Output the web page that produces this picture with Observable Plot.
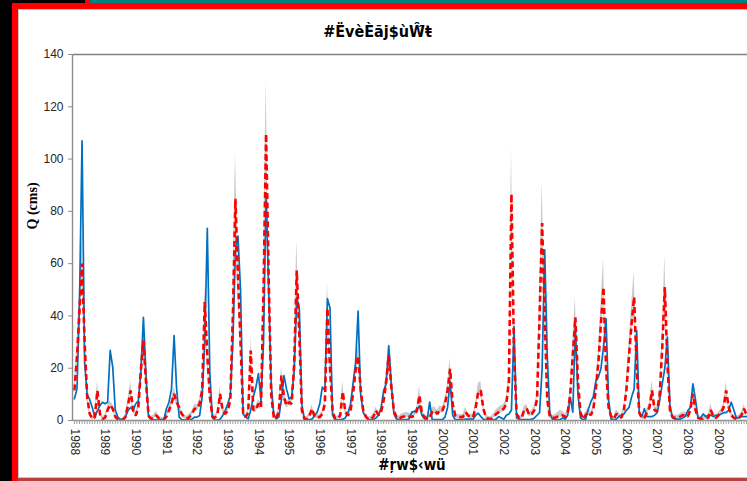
<!DOCTYPE html>
<html>
<head>
<meta charset="utf-8">
<script src="https://cdn.jsdelivr.net/npm/d3@7"></script>
<script src="https://cdn.jsdelivr.net/npm/@observablehq/plot@0.6"></script>
<style>
  html, body { margin: 0; padding: 0; background: #fff; }
  #page { position: relative; width: 747px; height: 481px; overflow: hidden; background: #fff; }
  .blk { position: absolute; }
  #title { position: absolute; left: 4px; width: 747px; top: 22px; text-align: center;
           font-family: "Liberation Sans Narrow", "DejaVu Sans Condensed", "Liberation Sans", sans-serif;
           font-stretch: condensed; font-weight: bold; font-size: 16px; line-height: 20px; color: #000; }
  #xlabel { position: absolute; left: 312px; width: 200px; top: 456px; text-align: center;
            font-family: "Liberation Sans Narrow", "DejaVu Sans Condensed", "Liberation Sans", sans-serif;
            font-stretch: condensed; font-weight: bold; font-size: 15px; line-height: 18px; color: #000; }
  #chart { position: absolute; left: 0; top: 44px; }
</style>
</head>
<body>
<div id="page">
  <div class="blk" style="left:0;top:0;width:12px;height:481px;background:#000"></div>
  <div class="blk" style="left:0;top:0;width:85px;height:3px;background:#000"></div>
  <div class="blk" style="left:85px;top:0;width:5px;height:3px;background:#ff0000"></div>
  <div class="blk" style="left:90px;top:0;width:657px;height:3px;background:#008080"></div>
  <div class="blk" style="left:12px;top:3px;width:735px;height:6px;background:#ff0000"></div>
  <div class="blk" style="left:12px;top:3px;width:6px;height:478px;background:#ff0000"></div>
  <div class="blk" style="left:18px;top:9px;width:729px;height:1px;background:#c4c4c4"></div>
  <div class="blk" style="left:18px;top:9px;width:1px;height:472px;background:#c4c4c4"></div>
  <div class="blk" style="left:18px;top:477px;width:729px;height:1px;background:#c8c8c8"></div>
  <div class="blk" style="left:18px;top:478px;width:729px;height:3px;background:#b84040"></div>
  <div id="title">#ËvèÈãj$ùŴ̂ŧ</div>
  <div id="chart"></div>
  <div id="xlabel">#ŗw$‹wü</div>
</div>
<script>
// Monthly series, Jan 1988 – Dec 2009 (one row per year)
const observed = [
  8.3, 12, 45, 107, 22, 10, 8, 5, 1.3, 3.8, 5.7, 7,
  6.4, 7, 26.8, 20.4, 4, 1.3, 0.3, 0.3, 1.5, 3.8, 5, 3.8,
  6.4, 7.5, 18, 39.5, 18, 1.5, 0.5, 0.3, 0.2, 0.2, 0.3, 0.3,
  4.5, 7, 12, 32.5, 12, 1.3, 0.3, 0.2, 0.2, 0.3, 0.5, 1.3,
  1.3, 1.9, 9, 30, 73.5, 18, 1, 0.2, 0.2, 0.5, 1.9, 3.8,
  6.4, 9.6, 30, 65, 70.5, 50, 2.5, 1.3, 0.6, 4, 9, 12.7,
  17.9, 7.7, 30, 87, 50, 14, 2.5, 0.6, 1.3, 8, 17.2, 12,
  8.3, 9, 19, 47, 43, 6, 0.6, 0.3, 0.3, 0.6, 1.9, 3.2,
  6.4, 12.8, 11.5, 46.6, 43, 2, 0.3, 0.2, 0.3, 0.5, 1, 3,
  6, 14, 22, 41.8, 10, 3, 1.5, 0.3, 0.2, 0.3, 1, 2,
  5, 11.5, 14, 28.6, 14, 2.5, 0.6, 0.3, 0.3, 0.3, 0.3, 0.6,
  3.2, 3.5, 4, 5.7, 1.9, 0.6, 0.3, 7, 0.3, 0.3, 0.3, 0.3,
  0.3, 1.3, 5, 15, 2, 0.3, 0.3, 0.3, 0.3, 0.5, 0.5, 0.5,
  0.5, 2, 2.8, 1.5, 0.5, 0.3, 0.2, 0.2, 0.3, 0.5, 1.5, 1,
  0.5, 2, 2.5, 4, 36, 1, 0.5, 0.3, 0.3, 0.3, 0.3, 0.5,
  1, 2, 3, 20, 65.3, 25, 3, 0.5, 0.3, 0.3, 0.3, 1,
  0.5, 2, 8.9, 3.2, 36, 10, 1, 0.3, 0.5, 4, 7, 9,
  15, 16.6, 19.8, 28, 38.9, 8, 0.5, 0.3, 0.5, 1.5, 2, 2.5,
  4, 5, 9, 12, 34.4, 3, 1.5, 4.5, 1.5, 1.5, 1.5, 2,
  3, 7.7, 14, 20, 31.9, 6, 1, 0.5, 0.5, 0.5, 1, 1.5,
  3.8, 5, 14, 8, 1, 1, 2.5, 1.5, 2, 2, 1.5, 2,
  2, 2.5, 3, 3, 4, 7, 4, 1, 1, 1.5, 1.5, 1.5
];
const simulated = [
  11.5, 24, 42, 60, 30, 9, 2.5, 0.6, 1.3, 11.5, 2.5, 0.6,
  1, 4, 6, 4.5, 1.5, 0.3, 0.3, 0.3, 1.3, 6, 11.5, 3.8,
  1.9, 5, 19, 30.6, 15, 1.9, 0.6, 1, 2, 0.8, 0.5, 0.3,
  1.5, 3.8, 6.4, 10.2, 7, 5, 2.5, 1.3, 0.6, 1.3, 2.5, 4.5,
  4.5, 6.4, 11.5, 45.3, 25, 9, 1.5, 1, 2.5, 10.2, 3.8, 2.5,
  3.8, 7.7, 40, 84.8, 55, 30, 3, 1.3, 3, 26.8, 4, 4,
  6.4, 5, 50, 109.7, 55, 10, 1.3, 0.6, 3.8, 17.2, 9, 5.7,
  7, 6.4, 21.7, 57.4, 33, 3.8, 0.6, 0.6, 1.9, 4.5, 1.3, 1.3,
  1.3, 2.5, 6.4, 43, 20, 3.8, 0.6, 0.6, 1.9, 11, 3.2, 1.9,
  3.5, 10, 19, 24.7, 12, 4, 1.5, 0.5, 0.5, 1.5, 3.8, 2,
  3.2, 7.7, 15, 24.9, 12.8, 3.8, 1.3, 0.6, 1.3, 1.5, 1.9, 1.5,
  1.3, 1.9, 3.8, 9.6, 2.5, 1.3, 0.6, 1.3, 3.2, 3.8, 2.5, 4,
  3.8, 6.4, 11.5, 19.8, 6.4, 1.9, 1.3, 1.3, 1.3, 3.2, 1.9, 1.3,
  1.3, 5, 10.8, 11.5, 4.5, 1.3, 0.6, 0.6, 1.3, 2.5, 3.2, 3.8,
  4.5, 6.4, 15, 86.7, 25, 2.5, 1, 1, 4, 4.5, 2, 2.5,
  4, 8, 40, 75.5, 40, 8, 1.5, 1, 1, 1.5, 2, 2,
  1.3, 3, 10, 25, 39.5, 15, 3, 0.5, 2, 3.2, 2, 4,
  12, 22, 37, 51, 20, 5, 1.5, 0.5, 2.5, 2, 1, 4,
  12, 25, 37, 47.2, 20, 3, 1, 1, 3, 5, 11.5, 4,
  3.5, 10, 28, 51, 22, 4, 1.3, 1, 1, 1.5, 2, 2,
  1.5, 4, 10.2, 4, 1, 0.6, 0.6, 1, 1, 4, 1.5, 1,
  2, 3, 5, 11.5, 5, 2, 1, 0.5, 1, 2, 4.5, 2
];
const bandHigh = [
  14, 29, 52, 71, 36, 11, 3.5, 1.5, 2.5, 15, 4, 1.5,
  2, 5.5, 7.5, 6, 2.5, 1, 1, 1, 2.5, 8, 15, 5,
  3, 6.5, 23, 35, 18, 3, 1.5, 2, 3.5, 2, 1.2, 1,
  2.5, 5, 8, 12.5, 9, 6.5, 3.5, 2.2, 1.5, 2.5, 3.5, 6,
  6, 8, 14, 52, 29, 11, 2.5, 2, 3.5, 13, 5, 3.5,
  5, 9.5, 48, 102, 64, 35, 4, 2.2, 4, 32, 5.5, 5.5,
  8, 6.5, 60, 130, 64, 12.5, 2.2, 1.5, 5, 20.5, 11, 7,
  8.5, 8, 26, 69, 39, 5, 1.5, 1.5, 3, 6, 2.2, 2.2,
  2.2, 3.5, 8, 53, 24, 5, 1.5, 1.5, 3, 15, 4.5, 3,
  4.8, 12, 22.5, 28.5, 14.5, 5.2, 2.5, 1.4, 1.4, 2.5, 5.2, 3,
  4.5, 9.5, 18, 30, 15.5, 5, 2.3, 1.6, 2.5, 2.8, 3.2, 2.8,
  2.5, 3.2, 5.2, 13, 3.8, 2.4, 1.6, 2.5, 4.8, 5.4, 3.8, 5.5,
  5.2, 8, 14, 23.6, 8, 3, 2.3, 2.3, 2.3, 5, 3, 2.3,
  2.4, 6.5, 14, 15, 6, 2.3, 1.5, 1.5, 2.5, 4, 5, 5.5,
  6.2, 8.2, 18, 104, 30, 3.6, 1.9, 1.9, 5.5, 6, 3.2, 3.8,
  5.5, 10, 48, 91, 47, 10, 2.5, 1.9, 2.2, 3, 3.8, 3.5,
  2.5, 4.2, 12.5, 30, 47, 18, 4.2, 1.4, 3.2, 5, 3.2, 5.5,
  14.5, 26, 44, 62, 24, 6.5, 2.5, 1.4, 4, 3.2, 2, 5.5,
  14.5, 29.5, 44, 57, 24, 4.2, 2, 2, 4.5, 6.5, 15.3, 5.5,
  5, 12.5, 33, 63, 26.5, 5.3, 2.3, 2, 2, 2.6, 3.2, 3.2,
  2.6, 5.3, 12, 5.3, 2, 1.5, 1.5, 2, 2, 6.4, 2.6, 2,
  3.2, 4.2, 6.5, 14.7, 6.5, 3.2, 2, 1.4, 2, 3.2, 6, 3.2
];
const bandLow = [
  10, 21, 37, 53, 26, 7.5, 1.8, 0.2, 0.7, 9.5, 1.8, 0.2,
  0.5, 3, 5, 3.5, 0.8, 0, 0, 0, 0.7, 5, 9.5, 3,
  1.2, 4, 16, 27, 13, 1.2, 0.2, 0.5, 1.2, 0.3, 0.1, 0,
  1, 3, 5.2, 8.5, 6, 4, 1.8, 0.8, 0.2, 0.7, 1.8, 3.5,
  3.5, 5.2, 9.5, 40, 22, 7.5, 1, 0.5, 1.8, 8.5, 3, 1.8,
  3, 6.5, 35, 75, 49, 27, 2.3, 0.8, 2.3, 23, 3.2, 3.2,
  5.2, 4, 44, 97, 49, 8.5, 0.8, 0.2, 3, 15, 7.5, 4.7,
  5.8, 5.2, 19, 51, 29, 3, 0.2, 0.2, 1.2, 3.5, 0.8, 0.8,
  0.8, 1.8, 5.2, 38, 17.5, 3, 0.2, 0.2, 1.2, 9, 2.4, 1.2,
  2.6, 8.5, 16.5, 22, 10.5, 3.2, 0.9, 0.1, 0.1, 0.9, 3, 1.3,
  2.4, 6.5, 13, 22, 11, 3, 0.8, 0.2, 0.7, 0.9, 1.2, 0.9,
  0.8, 1.2, 3, 8, 1.8, 0.8, 0.2, 0.8, 2.4, 2.9, 1.8, 3,
  3, 5.3, 9.8, 17, 5.3, 1.2, 0.8, 0.8, 0.8, 2.4, 1.2, 0.8,
  0.8, 4, 9, 9.8, 3.5, 0.8, 0.2, 0.2, 0.8, 1.8, 2.4, 2.9,
  3.5, 5.2, 13, 76, 22, 1.8, 0.5, 0.5, 3, 3.5, 1.3, 1.8,
  3, 6.8, 35, 66, 35, 6.6, 0.9, 0.5, 0.5, 0.9, 1.3, 1.3,
  0.8, 2.2, 8.5, 22, 35, 12.8, 2.2, 0.1, 1.3, 2.4, 1.3, 3,
  10.3, 19.5, 32.5, 45, 17.5, 4, 0.9, 0.1, 1.8, 1.3, 0.5, 3,
  10.3, 22, 32.5, 42, 17.5, 2.2, 0.5, 0.5, 2.2, 4, 9.8, 3,
  2.6, 8.5, 24.5, 45, 19.5, 3, 0.8, 0.5, 0.5, 0.9, 1.3, 1.3,
  0.9, 3, 8.8, 3, 0.5, 0.2, 0.2, 0.5, 0.5, 3, 0.9, 0.5,
  1.3, 2.2, 4, 9.8, 4, 1.3, 0.5, 0.1, 0.5, 1.3, 3.4, 1.3
];
const yearLabels = ["1988","1989","1990","1991","1992","1993","1994","1995","1996","1997","1998",
  "1999","2000","2001","2002","2003","2004","2005","2006","2007","2008","2009"];
const yTicks = [0, 20, 40, 60, 80, 100, 120, 140];

const rows = observed.map((v, i) => ({i, obs: v, sim: simulated[i], lo: bandLow[i], hi: bandHigh[i]}));
const monthTicks = d3.range(observed.length);
const yearTicks = yearLabels.map((d, k) => k * 12);

const chart = Plot.plot({
  width: 747,
  height: 412,
  marginLeft: 73,
  marginRight: 0,
  marginTop: 10,
  marginBottom: 36,
  style: {fontFamily: "'Liberation Sans', Arial, sans-serif", fontSize: "12px", background: "transparent", overflow: "visible", color: "#262626"},
  x: {domain: [-0.35, 263.35]},
  y: {domain: [0, 140]},
  marks: [
    Plot.areaY(rows, {x: "i", y1: "lo", y2: "hi", fill: "#c4c4c4", fillOpacity: 0.9}),
    Plot.line(rows, {x: "i", y: "obs", stroke: "#0070C0", strokeWidth: 1.7}),
    Plot.line(rows, {x: "i", y: "sim", stroke: "#FF0000", strokeWidth: 2.6, strokeDasharray: "6,3.5", strokeLinecap: "butt", strokeLinejoin: "miter"}),
    Plot.ruleY([140], {stroke: "#808080", strokeWidth: 1.6}),
    Plot.ruleY([0], {stroke: "#8c8c8c", strokeWidth: 1.4}),
    Plot.ruleX([-0.35], {stroke: "#8c8c8c", strokeWidth: 1.4, dx: -1}),
    Plot.axisY({ticks: yTicks, tickSize: 5, tickPadding: 5, stroke: "#8c8c8c", fill: "#262626", label: null}),
    Plot.axisX({ticks: monthTicks, tickSize: 4, tickFormat: () => "", stroke: "#a0a0a0", label: null}),
    Plot.axisX({ticks: yearTicks, tickSize: 0, tickPadding: 8, tickRotate: 90,
                tickFormat: (d) => yearLabels[Math.round(d / 12)], fill: "#262626", label: null}),
    Plot.text(["Q (cms)"], {frameAnchor: "left", rotate: -90, dx: -41, dy: -8,
                fontFamily: "'Liberation Serif', 'Times New Roman', serif", fontWeight: "bold", fontSize: 14, fill: "#000"})
  ]
});
document.getElementById("chart").appendChild(chart);
</script>
</body>
</html>
